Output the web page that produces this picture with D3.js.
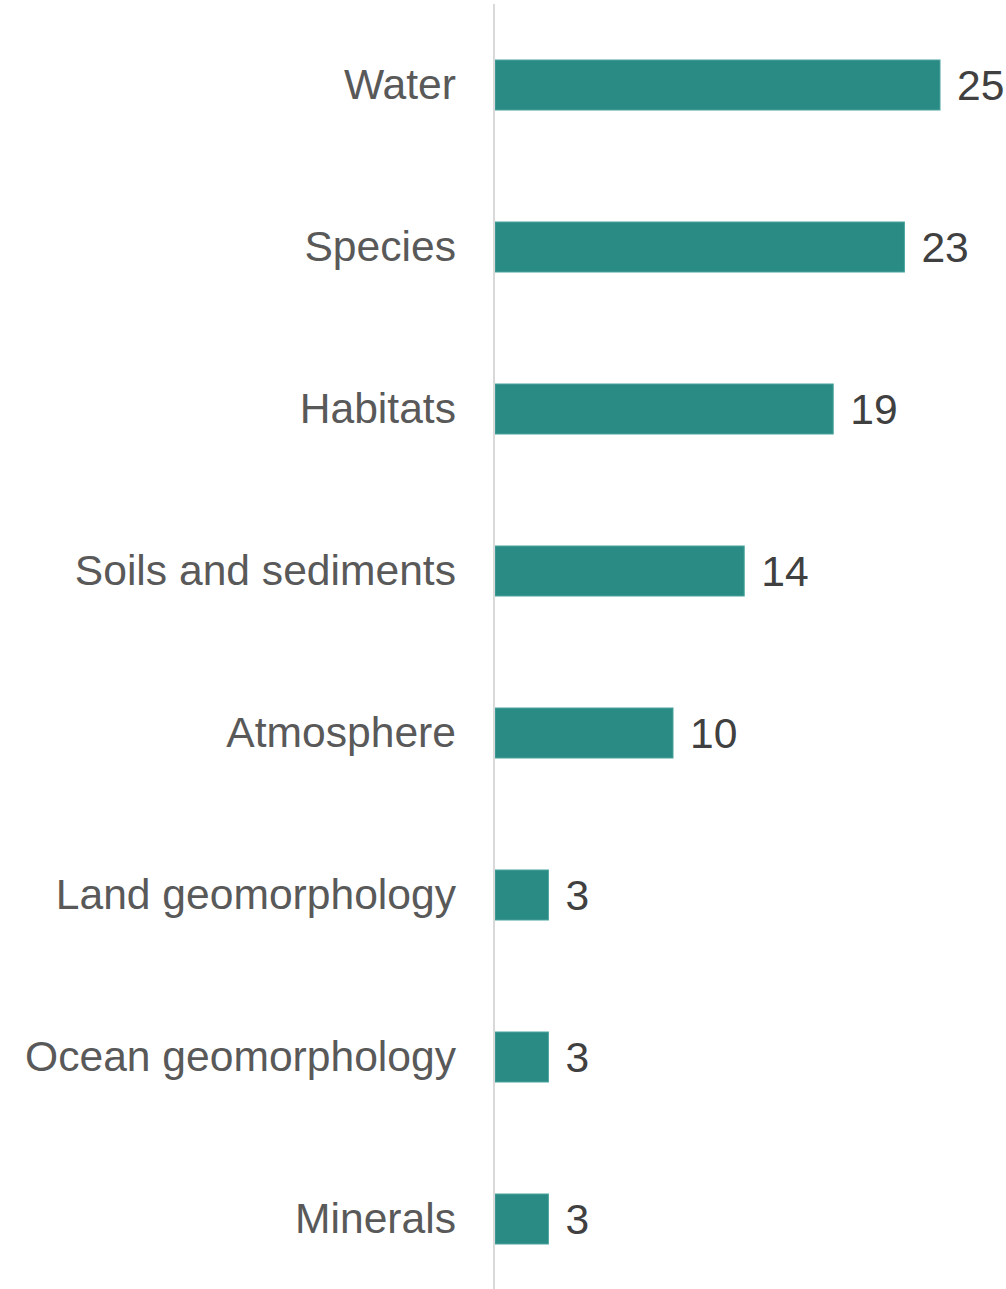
<!DOCTYPE html>
<html>
<head>
<meta charset="utf-8">
<script src="https://cdn.jsdelivr.net/npm/d3@7"></script>
<style>
  html, body { margin: 0; padding: 0; background: #ffffff; }
  svg { display: block; }
</style>
</head>
<body>
<svg id="chart"></svg>
<script>
const categories = ["Water", "Species", "Habitats", "Soils and sediments", "Atmosphere", "Land geomorphology", "Ocean geomorphology", "Minerals"];
const values = [25, 23, 19, 14, 10, 3, 3, 3];

const width = 1006, height = 1289;
const x0 = 495;
const svg = d3.select("#chart").attr("width", width).attr("height", height);

const x = d3.scaleLinear().domain([0, 25]).range([x0, 940]);
const y = d3.scaleBand().domain(categories).range([4, 1300])
  .paddingInner(1 - 50 / 162).paddingOuter((1 - 50 / 162) / 2);

const data = categories.map((c, i) => ({ c, v: values[i] }));

svg.selectAll("rect.bar").data(data).enter().append("rect")
  .attr("class", "bar")
  .attr("x", x(0))
  .attr("y", d => y(d.c))
  .attr("width", d => x(d.v) - x(0))
  .attr("height", y.bandwidth())
  .attr("fill", "#2a8a84")
  .attr("stroke", "#4aa39d")
  .attr("stroke-width", 1);

// axis line
svg.append("line")
  .attr("x1", 494).attr("x2", 494)
  .attr("y1", 4).attr("y2", height)
  .attr("stroke", "#d9d9d9").attr("stroke-width", 2);

const font = "'Liberation Sans', Arial, sans-serif";
const fs = 42.6;
svg.selectAll("text.cat").data(data).enter().append("text")
  .attr("class", "cat")
  .attr("x", 456)
  .attr("y", d => y(d.c) + y.bandwidth() / 2 + 14)
  .attr("text-anchor", "end")
  .attr("font-family", font).attr("font-size", fs)
  .attr("fill", "#595959")
  .text(d => d.c);

svg.selectAll("text.val").data(data).enter().append("text")
  .attr("class", "val")
  .attr("x", d => x(d.v) + 17)
  .attr("y", d => y(d.c) + y.bandwidth() / 2 + 15)
  .attr("font-family", font).attr("font-size", fs)
  .attr("fill", "#404040")
  .text(d => d.v);
</script>
</body>
</html>
